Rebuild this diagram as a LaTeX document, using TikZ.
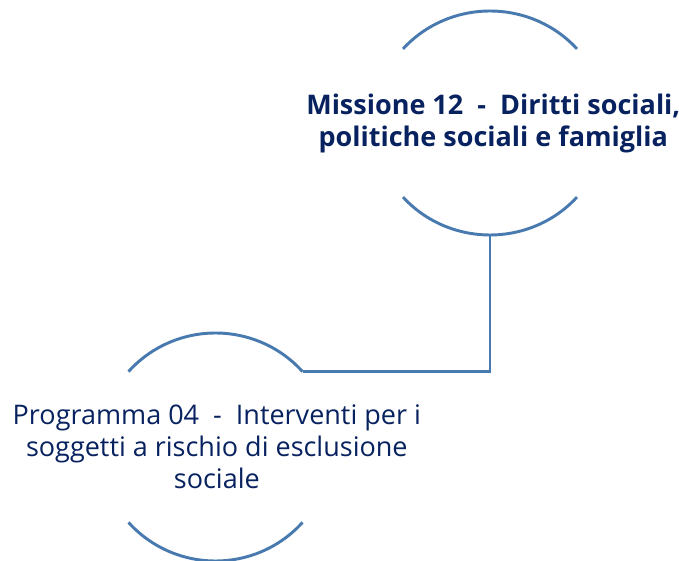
\documentclass[tikz,border=0pt]{standalone}
\usepackage{fontspec}
\setmainfont{Open Sans}
\usetikzlibrary{shapes.geometric}
\definecolor{arcblue}{RGB}{72,122,176}
\definecolor{navytext}{RGB}{8,34,96}
\tikzset{
  x=0.75pt, y=0.75pt,
  holder/.style={ellipse, inner sep=0pt, outer sep=0pt, minimum width=174pt, minimum height=168pt},
  arcline/.style={draw=arcblue, line width=2.2pt},
  label/.style={text=navytext, align=center, inner sep=0pt, font=\fontsize{20.25pt}{24pt}\selectfont},
}
\begin{document}
\begin{tikzpicture}
\useasboundingbox (0,0) rectangle (679,561);
% ellipse holders (not drawn)
\node[holder] (mis) at (490,438) {};
\node[holder, minimum height=171pt] (prog) at (215.5,114) {};
% arcs
\draw[arcline] (mis.center) ++(41.4:87pt and 84pt) arc[start angle=41.4, end angle=138.6, x radius=87pt, y radius=84pt];
\draw[arcline] (mis.center) ++(221.4:87pt and 84pt) arc[start angle=221.4, end angle=318.6, x radius=87pt, y radius=84pt];
\draw[arcline] (prog.center) ++(41.4:87pt and 85.5pt) arc[start angle=41.4, end angle=138.6, x radius=87pt, y radius=85.5pt];
\draw[arcline] (prog.center) ++(221.4:87pt and 85.5pt) arc[start angle=221.4, end angle=318.6, x radius=87pt, y radius=85.5pt];
% connector
\coordinate (progend) at ([shift={(41.4:87pt and 85.5pt)}]prog.center);
\draw[arcline, line join=miter] (mis.south) |- (progend);
% texts
\node[label, font=\bfseries\fontsize{20.25pt}{24pt}\selectfont] (mistext) at ([xshift=2.5pt]mis.center) {Missione 12\ \ -\ \ Diritti sociali,\\politiche sociali e famiglia};
\node[label] (progtext) at ([xshift=1pt]prog.center) {Programma 04\ \ -\ \ Interventi per i\\soggetti a rischio di esclusione\\sociale};
\end{tikzpicture}
\end{document}
